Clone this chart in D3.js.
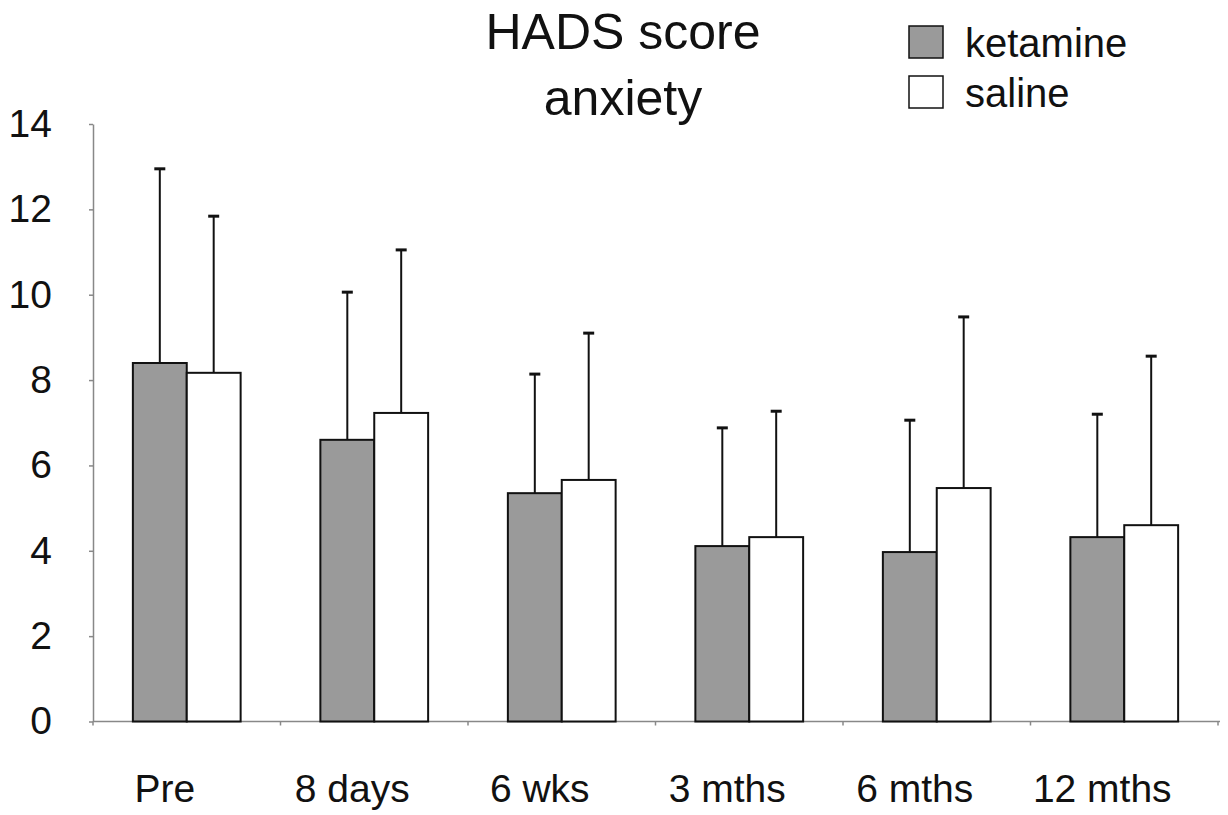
<!DOCTYPE html>
<html lang="en">
<head>
    <meta charset="UTF-8">
    <title>HADS score anxiety</title>
    <style>
        body { margin: 0; background: #fff; }
        svg text { font-family: "Liberation Sans", Arial, sans-serif; fill: #111; }
    </style>
    <script src="https://cdnjs.cloudflare.com/ajax/libs/d3/7.8.5/d3.min.js"></script>
</head>
<body>
    <div id="chart"></div>

    <script>
        // Data
        const timepoints = ["Pre", "8 days", "6 wks", "3 mths", "6 mths", "12 mths"];
        const groups = ["ketamine", "saline"];
        const ketamineMean = [8.40, 6.60, 5.35, 4.11, 3.97, 4.32];
        const ketamineSD   = [4.55, 3.46, 2.79, 2.77, 3.09, 2.88];
        const salineMean   = [8.17, 7.23, 5.66, 4.32, 5.47, 4.60];
        const salineSD     = [3.67, 3.82, 3.44, 2.95, 4.01, 3.96];
        const yTicks = [0, 2, 4, 6, 8, 10, 12, 14];

        const data = timepoints.map((t, i) => ({
            time: t,
            values: [
                { group: "ketamine", mean: ketamineMean[i], sd: ketamineSD[i] },
                { group: "saline", mean: salineMean[i], sd: salineSD[i] }
            ]
        }));

        const width = 1228, height = 815;
        const plot = { left: 93, right: 1218, top: 124, bottom: 721.5 };

        const svg = d3.select("#chart")
            .append("svg")
            .attr("width", width)
            .attr("height", height);

        const x0 = d3.scaleBand()
            .domain(timepoints)
            .range([plot.left, plot.right]);

        const x1 = d3.scaleBand()
            .domain(groups)
            .range([0, x0.bandwidth()])
            .paddingOuter(0.74);

        const y = d3.scaleLinear()
            .domain([0, 14])
            .range([plot.bottom, plot.top]);

        const fill = d3.scaleOrdinal()
            .domain(groups)
            .range(["#9a9a9a", "#ffffff"]);

        // y axis
        const yAxis = svg.append("g")
            .attr("transform", `translate(${plot.left},0)`)
            .call(d3.axisLeft(y).tickValues(yTicks).tickSize(4).tickPadding(37).tickSizeOuter(0));
        yAxis.select(".domain").attr("stroke", "#888").attr("stroke-width", 1.5);
        yAxis.selectAll(".tick line").attr("stroke", "#888").attr("stroke-width", 1.5);
        yAxis.selectAll(".tick text")
            .style("font-size", "39px")
            .attr("fill", "#111");

        // x axis line with separator ticks between groups
        svg.append("line")
            .attr("x1", plot.left).attr("x2", plot.right + 2)
            .attr("y1", plot.bottom).attr("y2", plot.bottom)
            .attr("stroke", "#888").attr("stroke-width", 1.5);

        svg.selectAll(".sep")
            .data([plot.left].concat(timepoints.map(t => x0(t) + x0.bandwidth())))
            .enter()
            .append("line")
            .attr("class", "sep")
            .attr("x1", d => d).attr("x2", d => d)
            .attr("y1", plot.bottom).attr("y2", plot.bottom + 4)
            .attr("stroke", "#888").attr("stroke-width", 1.5);

        // category labels
        svg.selectAll(".xlabel")
            .data(timepoints)
            .enter()
            .append("text")
            .attr("class", "xlabel")
            .attr("x", d => x0(d) + x0.bandwidth() / 2 - 22)
            .attr("y", 802)
            .attr("text-anchor", "middle")
            .style("font-size", "39px")
            .text(d => d);

        // bars and error bars
        const groupG = svg.selectAll(".grp")
            .data(data)
            .enter()
            .append("g")
            .attr("class", "grp")
            .attr("transform", d => `translate(${x0(d.time)},0)`);

        groupG.selectAll(".err")
            .data(d => d.values)
            .enter()
            .append("line")
            .attr("class", "err")
            .attr("x1", d => x1(d.group) + x1.bandwidth() / 2)
            .attr("x2", d => x1(d.group) + x1.bandwidth() / 2)
            .attr("y1", d => y(d.mean))
            .attr("y2", d => y(d.mean + d.sd))
            .attr("stroke", "#111").attr("stroke-width", 2);

        groupG.selectAll(".cap")
            .data(d => d.values)
            .enter()
            .append("line")
            .attr("class", "cap")
            .attr("x1", d => x1(d.group) + x1.bandwidth() / 2 - 5.5)
            .attr("x2", d => x1(d.group) + x1.bandwidth() / 2 + 5.5)
            .attr("y1", d => y(d.mean + d.sd))
            .attr("y2", d => y(d.mean + d.sd))
            .attr("stroke", "#111").attr("stroke-width", 3);

        groupG.selectAll(".bar")
            .data(d => d.values)
            .enter()
            .append("rect")
            .attr("class", "bar")
            .attr("x", d => x1(d.group))
            .attr("width", x1.bandwidth())
            .attr("y", d => y(d.mean))
            .attr("height", d => y(0) - y(d.mean))
            .attr("fill", d => fill(d.group))
            .attr("stroke", "#111")
            .attr("stroke-width", 2);

        // title
        const title = svg.append("text")
            .attr("text-anchor", "middle")
            .style("font-size", "50px");
        title.append("tspan").attr("x", 623).attr("y", 49).text("HADS score");
        title.append("tspan").attr("x", 623).attr("y", 115).text("anxiety");

        // legend
        const legend = svg.selectAll(".legend")
            .data(groups)
            .enter()
            .append("g")
            .attr("class", "legend")
            .attr("transform", (d, i) => `translate(909,${26 + i * 50})`);

        legend.append("rect")
            .attr("width", 34).attr("height", 32)
            .attr("fill", d => fill(d))
            .attr("stroke", "#111").attr("stroke-width", 1.5);

        legend.append("text")
            .attr("x", 56)
            .attr("y", 31)
            .style("font-size", "40px")
            .text(d => d);
    </script>
</body>
</html>
